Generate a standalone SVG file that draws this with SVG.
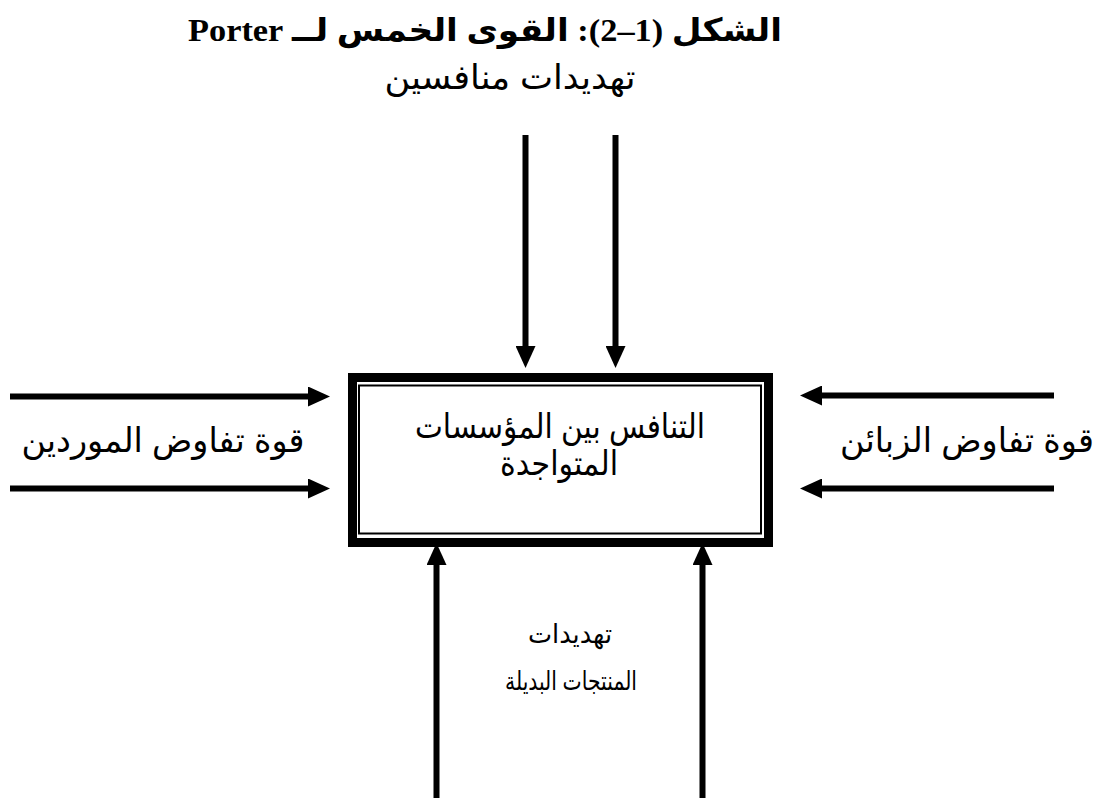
<svg xmlns="http://www.w3.org/2000/svg" width="1103" height="805" viewBox="0 0 1103 805">
<style>
.t{font-family:"Liberation Sans","DejaVu Sans",Arial,sans-serif;font-size:34px;fill:#000;text-anchor:middle;direction:rtl}
.s{font-size:26px}
.title{font-family:"Liberation Serif","DejaVu Serif","DejaVu Sans",serif;font-size:32px;font-weight:bold;fill:#000;text-anchor:middle;direction:rtl}
.c{stroke:#000;stroke-width:6;fill:none}
</style>
<defs>
<marker id="ah" viewBox="0 0 22 20" refX="0" refY="10" markerWidth="22" markerHeight="20" markerUnits="userSpaceOnUse" orient="auto">
<path d="M0,0 L22,10 L0,20 Z" fill="#000"/>
</marker>
</defs>
<rect width="1103" height="805" fill="#fff"/>
<g id="title">
<text class="title" x="485" y="41" textLength="594" lengthAdjust="spacingAndGlyphs">الشكل (1–2): القوى الخمس لــ Porter</text>
</g>
<g id="center">
<rect x="352.5" y="377.5" width="416" height="165" fill="none" stroke="#000" stroke-width="9"/>
<rect x="359" y="385.5" width="402" height="148" fill="none" stroke="#000" stroke-width="2"/>
<text class="t" x="560" y="438" textLength="290" lengthAdjust="spacingAndGlyphs">التنافس بين المؤسسات</text>
<text class="t" x="559" y="475" textLength="118" lengthAdjust="spacingAndGlyphs">المتواجدة</text>
</g>
<g id="entrants">
<text class="t" x="510" y="89" textLength="251" lengthAdjust="spacingAndGlyphs">تهديدات منافسين</text>
</g>
<g id="suppliers">
<text class="t" x="163" y="452" textLength="283" lengthAdjust="spacingAndGlyphs">قوة تفاوض الموردين</text>
</g>
<g id="buyers">
<text class="t" x="967" y="452" textLength="254" lengthAdjust="spacingAndGlyphs">قوة تفاوض الزبائن</text>
</g>
<g id="substitutes">
<text class="t s" x="570" y="643" textLength="84" lengthAdjust="spacingAndGlyphs">تهديدات</text>
<text class="t s" x="571" y="690" textLength="132" lengthAdjust="spacingAndGlyphs">المنتجات البديلة</text>
</g>
<g id="connectors">
<line class="c" x1="525.5" y1="135" x2="525.5" y2="346" marker-end="url(#ah)"/>
<line class="c" x1="615.5" y1="135" x2="615.5" y2="346" marker-end="url(#ah)"/>
<line class="c" x1="10" y1="396.5" x2="308" y2="396.5" marker-end="url(#ah)"/>
<line class="c" x1="10" y1="488.5" x2="308" y2="488.5" marker-end="url(#ah)"/>
<line class="c" x1="1054" y1="395.5" x2="822" y2="395.5" marker-end="url(#ah)"/>
<line class="c" x1="1054" y1="488.5" x2="822" y2="488.5" marker-end="url(#ah)"/>
<line class="c" x1="436.5" y1="798" x2="436.5" y2="565" marker-end="url(#ah)"/>
<line class="c" x1="702.5" y1="798" x2="702.5" y2="565" marker-end="url(#ah)"/>
</g>
</svg>
